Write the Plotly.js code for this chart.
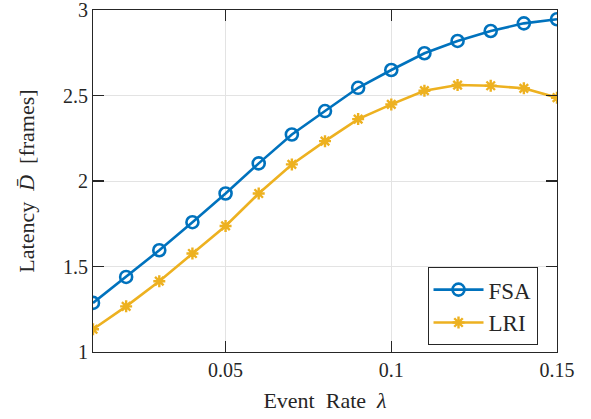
<!DOCTYPE html>
<html>
<head>
<meta charset="utf-8">
<script src="https://cdn.plot.ly/plotly-3.0.1.min.js"></script>
<style>
  html, body { margin: 0; padding: 0; background: #ffffff; }
  #chart { width: 591px; height: 419px; }
</style>
</head>
<body>
<div id="chart"></div>
<script>
// Event rates on the horizontal axis
const eventRate = [0.01, 0.02, 0.03, 0.04, 0.05, 0.06, 0.07, 0.08, 0.09, 0.10, 0.11, 0.12, 0.13, 0.14, 0.15];

// Mean latency (frames) per scheme
const latencyFSA = [1.287, 1.439, 1.595, 1.759, 1.927, 2.103, 2.272, 2.409, 2.545, 2.649, 2.747, 2.819, 2.877, 2.922, 2.946];
const latencyLRI = [1.133, 1.267, 1.414, 1.576, 1.737, 1.927, 2.097, 2.233, 2.362, 2.448, 2.528, 2.561, 2.557, 2.542, 2.487];

const seriesNames = ['FSA', 'LRI'];

const xTicks = [0.05, 0.1, 0.15];
const xTickText = ['0.05', '0.1', '0.15'];
const yTicks = [1, 1.5, 2, 2.5, 3];
const yTickText = ['1', '1.5', '2', '2.5', '3'];

const serif = 'Liberation Serif';
const ink = '#262626';

const traces = [
  {
    x: eventRate, y: latencyFSA, name: seriesNames[0],
    type: 'scatter', mode: 'lines+markers',
    line: { color: '#0072BD', width: 2.6 },
    marker: { symbol: 'circle-open', size: 12, color: '#0072BD', line: { width: 2.6, color: '#0072BD' } }
  },
  {
    x: eventRate, y: latencyLRI, name: seriesNames[1],
    type: 'scatter', mode: 'lines+markers',
    line: { color: '#EDB120', width: 2.6 },
    marker: { symbol: 'asterisk-open', size: 10, color: '#EDB120', line: { width: 2.4, color: '#EDB120' } }
  }
];

const axisCommon = {
  showline: true, linecolor: ink, linewidth: 1, mirror: 'ticks',
  ticks: 'inside', ticklen: 11, tickwidth: 1.3, tickcolor: ink,
  showgrid: true, gridcolor: '#e3e3e3', gridwidth: 1,
  zeroline: false, layer: 'above traces',
  ticklabeloverflow: 'allow',
  tickfont: { family: serif, size: 20, color: ink }
};

const layout = {
  width: 591, height: 419,
  margin: { l: 93, r: 34, t: 10, b: 67 },
  paper_bgcolor: '#ffffff', plot_bgcolor: '#ffffff',
  font: { family: serif, size: 20, color: ink },
  showlegend: true,
  xaxis: Object.assign({}, axisCommon, {
    range: [0.01, 0.15],
    tickmode: 'array', tickvals: xTicks, ticktext: xTickText,
    title: { text: 'Event\u00a0\u00a0Rate\u00a0\u00a0<i>λ</i>', font: { family: serif, size: 22, color: ink }, standoff: 12 }
  }),
  yaxis: Object.assign({}, axisCommon, {
    range: [1, 3],
    tickmode: 'array', tickvals: yTicks, ticktext: yTickText,
    title: { text: 'Latency\u00a0\u00a0<i>D̄</i>\u00a0\u00a0[frames]', font: { family: serif, size: 22, color: ink }, standoff: 22 }
  }),
  legend: {
    x: 0.958, y: 0.02, xanchor: 'right', yanchor: 'bottom',
    bgcolor: '#ffffff', bordercolor: ink, borderwidth: 1,
    font: { family: serif, size: 23, color: ink },
    itemwidth: 50,
    tracegroupgap: 0
  }
};

Plotly.newPlot('chart', traces, layout, { displayModeBar: false, staticPlot: true });
</script>
</body>
</html>
